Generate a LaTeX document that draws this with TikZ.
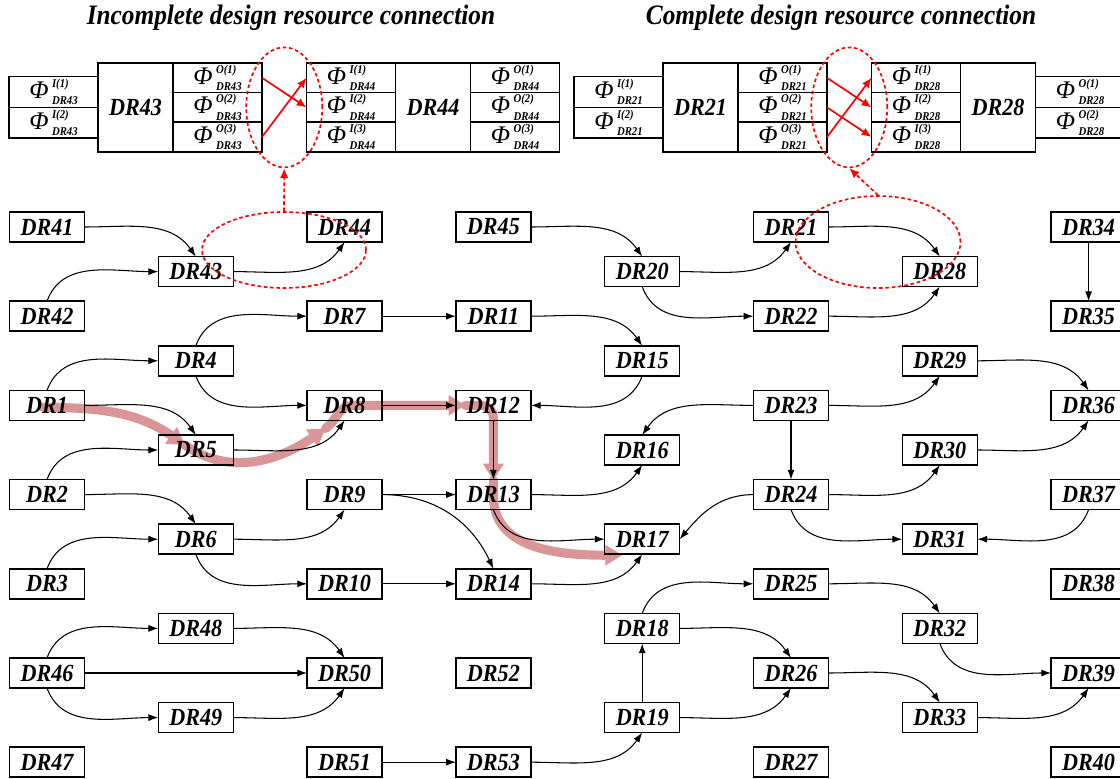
\documentclass[tikz,border=0pt]{standalone}
\usepackage{fontspec}
\setmainfont{Liberation Serif}
\newfontfamily\drserif[FakeStretch=0.9]{Liberation Serif}
\usetikzlibrary{arrows.meta,positioning,shapes.geometric,backgrounds,calc}

\definecolor{hlpink}{RGB}{218,150,150}
\newcommand{\drfont}{\drserif\fontsize{17.5}{20}\selectfont\bfseries\itshape}
% Phi with output/input index and resource name
\newcommand{\phic}[2]{{\fontsize{18}{18}\selectfont\itshape Φ}\hspace{2.5pt}%
  {\drserif\fontsize{8.5}{8.5}\selectfont\bfseries\itshape
   \rlap{\raisebox{8pt}{#1}}\raisebox{-4.5pt}{#2}}}

\begin{document}
\begin{tikzpicture}[
    node distance=1.845cm,
    dr/.style={rectangle, draw, line width=1.1pt, minimum width=1.875cm,
               minimum height=0.75cm, inner sep=0pt, outer sep=0pt, font=\drfont},
    blk/.style={rectangle, draw, line width=1.1pt, minimum width=1.875cm,
                minimum height=2.22cm, inner sep=0pt, outer sep=0pt, font=\drfont},
    ocell/.style={rectangle, draw, line width=1.1pt, minimum width=2.225cm,
                  minimum height=0.74cm, inner sep=0pt, outer sep=0pt},
    icell/.style={ocell, minimum height=0.77cm},
    title/.style={font=\drserif\fontsize{20}{24}\selectfont\bfseries\itshape},
    link/.style={-{Latex[length=7pt,width=5pt]}, line width=0.75pt},
    redarr/.style={-{Latex[length=7pt,width=6pt]}, draw=red, line width=1.2pt},
    hole/.style={ellipse, draw=red, line width=1.2pt,
                 dash pattern=on 2.5pt off 2pt, inner sep=0pt},
    holearr/.style={-{Latex[length=7pt,width=6pt]}, draw=red, fill=red,
                    line width=1.2pt, dash pattern=on 2.5pt off 2pt},
    hl/.style={draw=hlpink, line width=6.5pt, line cap=round,
               -{Triangle[length=12pt,width=14pt]}}
]
  \useasboundingbox (0,0) rectangle (28,19.45);

  % Titles
  \node[title] (tinc) at (7.275,19.0) {Incomplete design resource connection};
  \node[title] (tcom) at (21.025,19.0) {Complete design resource connection};

  % Incomplete connection: DR43 and DR44
  \node[blk] (b43) at (3.3875,16.765) {DR43};
  \node[icell, anchor=south east] (i431) at (b43.west) {\phic{I(1)}{DR43}};
  \node[icell, anchor=north east] (i432) at (b43.west) {\phic{I(2)}{DR43}};
  \node[ocell, anchor=north west] (o431) at (b43.north east) {\phic{O(1)}{DR43}};
  \node[ocell, below=0pt of o431] (o432) {\phic{O(2)}{DR43}};
  \node[ocell, below=0pt of o432] (o433) {\phic{O(3)}{DR43}};

  \node[blk] (b44) at (10.825,16.765) {DR44};
  \node[ocell, anchor=north east] (i441) at (b44.north west) {\phic{I(1)}{DR44}};
  \node[ocell, below=0pt of i441] (i442) {\phic{I(2)}{DR44}};
  \node[ocell, below=0pt of i442] (i443) {\phic{I(3)}{DR44}};
  \node[ocell, anchor=north west] (o441) at (b44.north east) {\phic{O(1)}{DR44}};
  \node[ocell, below=0pt of o441] (o442) {\phic{O(2)}{DR44}};
  \node[ocell, below=0pt of o442] (o443) {\phic{O(3)}{DR44}};

  \draw[redarr] (o431.east) -- (i442.west);
  \draw[redarr] (o433.east) -- (i441.west);

  % Complete connection: DR21 and DR28
  \node[blk] (b21) at (17.5125,16.765) {DR21};
  \node[icell, anchor=south east] (i211) at (b21.west) {\phic{I(1)}{DR21}};
  \node[icell, anchor=north east] (i212) at (b21.west) {\phic{I(2)}{DR21}};
  \node[ocell, anchor=north west] (o211) at (b21.north east) {\phic{O(1)}{DR21}};
  \node[ocell, below=0pt of o211] (o212) {\phic{O(2)}{DR21}};
  \node[ocell, below=0pt of o212] (o213) {\phic{O(3)}{DR21}};

  \node[blk] (b28) at (24.95,16.765) {DR28};
  \node[ocell, anchor=north east] (i281) at (b28.north west) {\phic{I(1)}{DR28}};
  \node[ocell, below=0pt of i281] (i282) {\phic{I(2)}{DR28}};
  \node[ocell, below=0pt of i282] (i283) {\phic{I(3)}{DR28}};
  \node[icell, anchor=south west] (o281) at (b28.east) {\phic{O(1)}{DR28}};
  \node[icell, anchor=north west] (o282) at (b28.east) {\phic{O(2)}{DR28}};

  \draw[redarr] (o211.east) -- (i282.west);
  \draw[redarr] (o212.east) -- (i283.west);
  \draw[redarr] (o213.east) -- (i281.west);

  % Column 1
  \node[dr] (dr41) at (1.175,13.775) {DR41};
  \node[dr] (dr42) at (1.175,11.545) {DR42};
  \node[dr] (dr1)  at (1.175,9.315)  {DR1};
  \node[dr] (dr2)  at (1.175,7.085)  {DR2};
  \node[dr] (dr3)  at (1.175,4.855)  {DR3};
  \node[dr] (dr46) at (1.175,2.625)  {DR46};
  \node[dr] (dr47) at (1.175,0.395)  {DR47};

  % Column 2
  \node[dr] (dr43) at (4.895,12.66) {DR43};
  \node[dr] (dr4)  at (4.895,10.43) {DR4};
  \node[dr] (dr5)  at (4.895,8.2)   {DR5};
  \node[dr] (dr6)  at (4.895,5.97)  {DR6};
  \node[dr] (dr48) at (4.895,3.74)  {DR48};
  \node[dr] (dr49) at (4.895,1.51)  {DR49};

  % Columns 3 and 4
  \node[dr] (dr44) at (8.615,13.775) {DR44};
  \node[dr] (dr7)  at (8.615,11.545) {DR7};
  \node[dr] (dr8)  at (8.615,9.315)  {DR8};
  \node[dr] (dr9)  at (8.615,7.085)  {DR9};
  \node[dr] (dr10) at (8.615,4.855)  {DR10};
  \node[dr] (dr50) at (8.615,2.625)  {DR50};
  \node[dr] (dr51) at (8.615,0.395)  {DR51};
  \node[dr, right=of dr44] (dr45) {DR45};
  \node[dr, right=of dr7]  (dr11) {DR11};
  \node[dr, right=of dr8]  (dr12) {DR12};
  \node[dr, right=of dr9]  (dr13) {DR13};
  \node[dr, right=of dr10] (dr14) {DR14};
  \node[dr, right=of dr50] (dr52) {DR52};
  \node[dr, right=of dr51] (dr53) {DR53};

  % Column 5
  \node[dr] (dr20) at (16.055,12.66) {DR20};
  \node[dr] (dr15) at (16.055,10.43) {DR15};
  \node[dr] (dr16) at (16.055,8.2)   {DR16};
  \node[dr] (dr17) at (16.055,5.97)  {DR17};
  \node[dr] (dr18) at (16.055,3.74)  {DR18};
  \node[dr] (dr19) at (16.055,1.51)  {DR19};

  % Column 6
  \node[dr] (dr21) at (19.775,13.775) {DR21};
  \node[dr] (dr22) at (19.775,11.545) {DR22};
  \node[dr] (dr23) at (19.775,9.315)  {DR23};
  \node[dr] (dr24) at (19.775,7.085)  {DR24};
  \node[dr] (dr25) at (19.775,4.855)  {DR25};
  \node[dr] (dr26) at (19.775,2.625)  {DR26};
  \node[dr] (dr27) at (19.775,0.395)  {DR27};

  % Column 7
  \node[dr] (dr28) at (23.495,12.66) {DR28};
  \node[dr] (dr29) at (23.495,10.43) {DR29};
  \node[dr] (dr30) at (23.495,8.2)   {DR30};
  \node[dr] (dr31) at (23.495,5.97)  {DR31};
  \node[dr] (dr32) at (23.495,3.74)  {DR32};
  \node[dr] (dr33) at (23.495,1.51)  {DR33};

  % Column 8
  \node[dr] (dr34) at (27.215,13.775) {DR34};
  \node[dr] (dr35) at (27.215,11.545) {DR35};
  \node[dr] (dr36) at (27.215,9.315)  {DR36};
  \node[dr] (dr37) at (27.215,7.085)  {DR37};
  \node[dr] (dr38) at (27.215,4.855)  {DR38};
  \node[dr] (dr39) at (27.215,2.625)  {DR39};
  \node[dr] (dr40) at (27.215,0.395)  {DR40};

  % Links
  \draw[link] (dr41.east) to[out=0,in=125] (dr43.north);
  \draw[link] (dr42.north) to[out=70,in=180] (dr43.west);
  \draw[link] (dr43.east) to[out=0,in=-125] (dr44.south);
  \draw[link] (dr45.east) to[out=0,in=125] (dr20.north);
  \draw[link] (dr20.east) to[out=0,in=-125] (dr21.south);
  \draw[link] (dr20.south) to[out=-70,in=180] (dr22.west);
  \draw[link] (dr21.east) to[out=0,in=125] (dr28.north);
  \draw[link] (dr22.east) to[out=0,in=-125] (dr28.south);
  \draw[link] (dr34) -- (dr35);
  \draw[link] (dr1.north) to[out=70,in=180] (dr4.west);
  \draw[link] (dr1.east) to[out=0,in=125] (dr5.north);
  \draw[link] (dr2.north) to[out=70,in=180] (dr5.west);
  \draw[link] (dr4.north) to[out=70,in=180] (dr7.west);
  \draw[link] (dr4.south) to[out=-70,in=180] (dr8.west);
  \draw[link] (dr5.east) to[out=0,in=-125] (dr8.south);
  \draw[link] (dr7) -- (dr11);
  \draw[link] (dr8) -- (dr12);
  \draw[link] (dr11.east) to[out=0,in=125] (dr15.north);
  \draw[link] (dr15.south) to[out=-110,in=0] (dr12.east);
  \draw[link] (dr12) -- (dr13);
  \draw[link] (dr2.east) to[out=0,in=125] (dr6.north);
  \draw[link] (dr3.north) to[out=70,in=180] (dr6.west);
  \draw[link] (dr6.east) to[out=0,in=-125] (dr9.south);
  \draw[link] (dr6.south) to[out=-70,in=180] (dr10.west);
  \draw[link] (dr9) -- (dr13);
  \draw[link] (dr9.east) to[out=0,in=115] (dr14.north);
  \draw[link] (dr10) -- (dr14);
  \draw[link] (dr13.east) to[out=0,in=-125] (dr16.south);
  \draw[link] (dr13.south) to[out=-70,in=180] (dr17.west);
  \draw[link] (dr14.east) to[out=0,in=-125] (dr17.south);
  \draw[link] (dr23.west) to[out=180,in=55] (dr16.north);
  \draw[link] (dr23) -- (dr24);
  \draw[link] (dr23.east) to[out=0,in=-125] (dr29.south);
  \draw[link] (dr29.east) to[out=0,in=125] (dr36.north);
  \draw[link] (dr30.east) to[out=0,in=-125] (dr36.south);
  \draw[link] (dr24.west) to[out=180,in=50] (dr17.east);
  \draw[link] (dr24.east) to[out=0,in=-125] (dr30.south);
  \draw[link] (dr24.south) to[out=-70,in=180] (dr31.west);
  \draw[link] (dr37.south) to[out=-110,in=0] (dr31.east);
  \draw[link] (dr18.north) to[out=70,in=180] (dr25.west);
  \draw[link] (dr18.east) to[out=0,in=125] (dr26.north);
  \draw[link] (dr19) -- (dr18);
  \draw[link] (dr19.east) to[out=0,in=-125] (dr26.south);
  \draw[link] (dr25.east) to[out=0,in=125] (dr32.north);
  \draw[link] (dr26.east) to[out=0,in=125] (dr33.north);
  \draw[link] (dr32.south) to[out=-70,in=180] (dr39.west);
  \draw[link] (dr33.east) to[out=0,in=-125] (dr39.south);
  \draw[link] (dr46.north) to[out=70,in=180] (dr48.west);
  \draw[link] (dr46) -- (dr50);
  \draw[link] (dr46.south) to[out=-70,in=180] (dr49.west);
  \draw[link] (dr48.east) to[out=0,in=125] (dr50.north);
  \draw[link] (dr49.east) to[out=0,in=-125] (dr50.south);
  \draw[link] (dr51) -- (dr53);
  \draw[link] (dr53.east) to[out=0,in=-125] (dr19.south);

  % Red dashed marks
  \node[hole, minimum width=1.9cm, minimum height=3cm] (gap43)
       at ($(o432.east)!0.5!(i442.west)$) {};
  \node[hole, minimum width=1.9cm, minimum height=3cm] (gap21)
       at ($(o212.east)!0.5!(i282.west)$) {};
  \node[hole, minimum width=4.1cm, minimum height=1.9cm] (pair43) at (7.1,13.2) {};
  \node[hole, minimum width=4.125cm, minimum height=2.3cm] (pair21) at (21.95,13.4) {};
  \draw[holearr] (pair43.north) -- (gap43.south);
  \draw[holearr] (pair21.north) -- (gap21.south);

  % Highlighted chain
  \begin{pgfonlayer}{background}
    \draw[hl] ($(dr1)+(-0.1,-0.05)$) to[out=0,in=145] ($(dr5)+(-0.275,0.125)$);
    \draw[hl] ($(dr5)+(-0.275,0.125)$) to[out=-35,in=215] ($(dr8)+(-0.475,-0.575)$);
    \draw[hl] ($(dr8)+(-0.475,-0.575)$) to[out=35,in=180] ($(dr8)+(0.2,0)$)
      -- ($(dr12)+(-0.7,0)$);
    \draw[hl] ($(dr12)+(-0.7,0)$) -- ($(dr12)+(-0.3,0)$) to[out=0,in=90]
      ($(dr12)+(0,-0.3)$) -- ($(dr13)+(0,0.35)$);
    \draw[hl] ($(dr13)+(0,0.35)$) -- ($(dr13)+(0,-0.05)$) to[out=-90,in=180]
      ($(dr17)+(-0.5,-0.4)$);
  \end{pgfonlayer}

\end{tikzpicture}
\end{document}
